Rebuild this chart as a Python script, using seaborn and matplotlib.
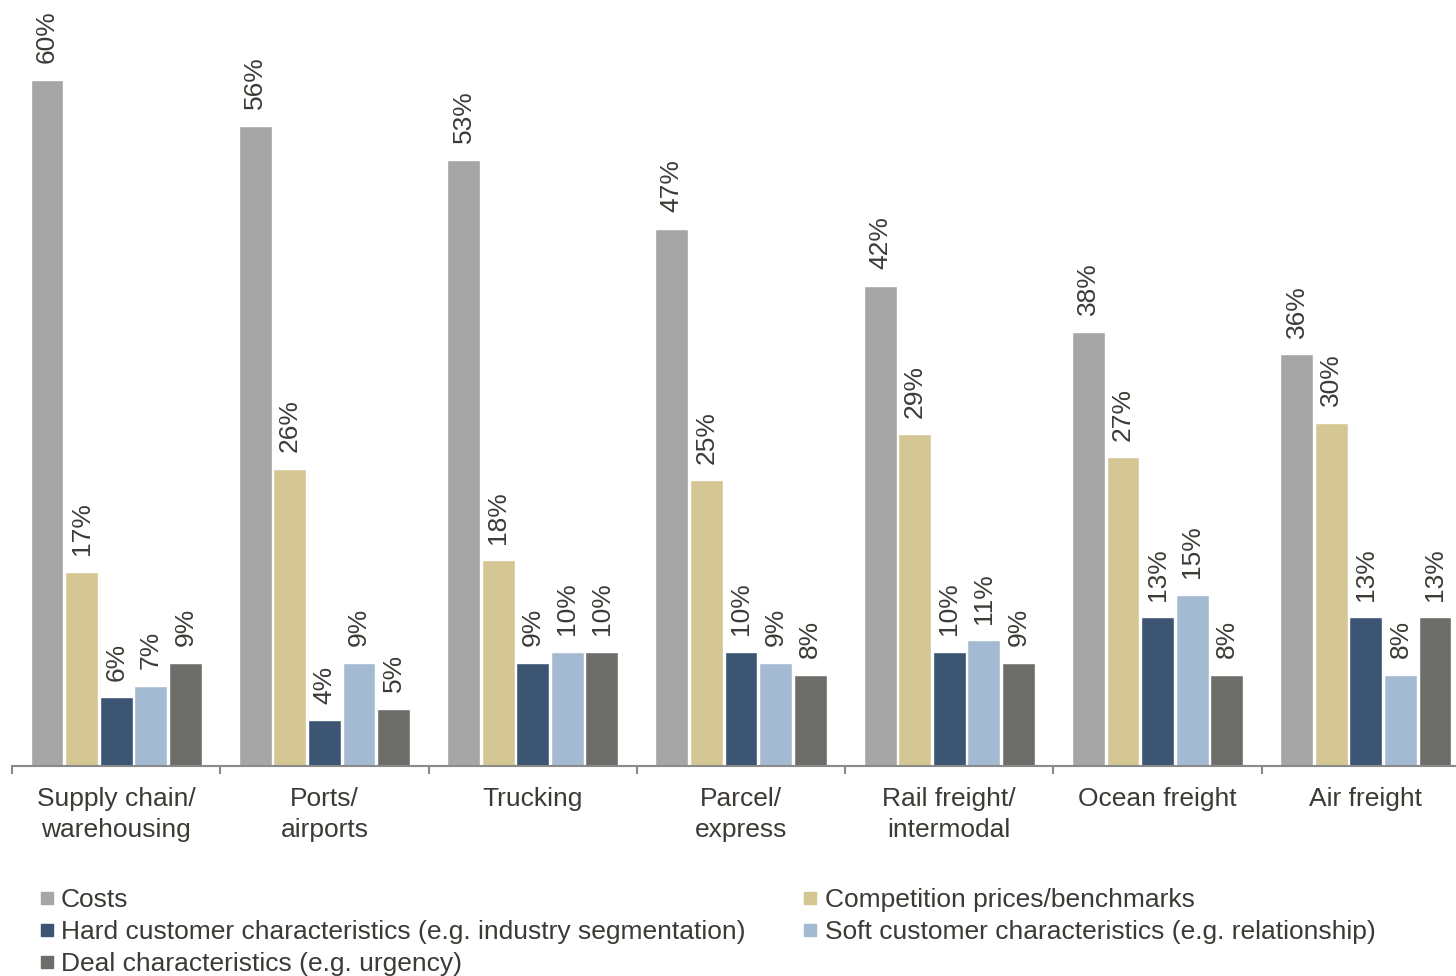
import numpy as np
import pandas as pd
import matplotlib
matplotlib.use("Agg")
import matplotlib.pyplot as plt
from matplotlib.lines import Line2D
import seaborn as sns

categories = ["Supply chain/\nwarehousing", "Ports/\nairports", "Trucking", "Parcel/\nexpress",
              "Rail freight/\nintermodal", "Ocean freight", "Air freight"]
series = ["Costs", "Competition prices/benchmarks",
          "Hard customer characteristics (e.g. industry segmentation)",
          "Soft customer characteristics (e.g. relationship)",
          "Deal characteristics (e.g. urgency)"]
costs = [60, 56, 53, 47, 42, 38, 36]
competition = [17, 26, 18, 25, 29, 27, 30]
hard = [6, 4, 9, 10, 10, 13, 13]
soft = [7, 9, 10, 9, 11, 15, 8]
deal = [9, 5, 10, 8, 9, 8, 13]
colors = ["#a6a6a6", "#d4c794", "#3b5573", "#a4bad2", "#6d6e69"]

values = [costs, competition, hard, soft, deal]
rows = []
for s, vals in zip(series, values):
    for c, v in zip(categories, vals):
        rows.append({"category": c, "series": s, "value": v})
df = pd.DataFrame(rows)

sns.set_theme(style="white")
plt.rcParams["font.family"] = ["Liberation Sans", "DejaVu Sans"]
text_color = "#3d3a35"

fig = plt.figure(figsize=(14.56, 9.76), dpi=100)
ax = fig.add_axes([12 / 1456, (976 - 766) / 976, 1458 / 1456, 766 / 976])

sns.barplot(data=df, x="category", y="value", hue="series", order=categories,
            hue_order=series, palette=colors, width=0.83, gap=0.05,
            saturation=1, legend=False, ax=ax, errorbar=None)

for cont in ax.containers:
    for bar in cont:
        h = bar.get_height()
        ax.annotate(f"{h:.0f}%", (bar.get_x() + bar.get_width() / 2, h),
                    xytext=(0, 12), textcoords="offset points", rotation=90,
                    ha="center", va="bottom", fontsize=19, color=text_color)

ax.set_xlim(-0.5, 6.5)
ax.set_ylim(0, 766 / 686 * 60)
ax.set_xlabel("")
ax.set_ylabel("")
ax.set_yticks([])
for sp in ["top", "right", "left"]:
    ax.spines[sp].set_visible(False)
ax.spines["bottom"].set_color("#8a8a8a")
ax.spines["bottom"].set_linewidth(1.5)
ax.tick_params(axis="x", which="major", length=0, pad=15, labelsize=19, labelcolor=text_color)
for lbl in ax.get_xticklabels():
    lbl.set_linespacing(1.38)
ax.set_xticks(np.arange(-0.5, 7.0, 1.0), minor=True)
ax.tick_params(axis="x", which="minor", length=6, width=1.5, color="#8a8a8a", direction="out", bottom=True)

handles = [Line2D([0], [0], marker="s", linestyle="", markersize=8,
                  markerfacecolor=col, markeredgecolor=col) for col in colors]
order = [0, 2, 4, 1, 3]
leg = fig.legend([handles[i] for i in order], [series[i] for i in order], ncol=2,
                 loc="upper left", bbox_to_anchor=(40 / 1456, 1 - 888 / 976),
                 frameon=False, fontsize=19, handlelength=0.5, handletextpad=0.3,
                 labelspacing=0.3, columnspacing=2.2, borderaxespad=0, borderpad=0)
for t in leg.get_texts():
    t.set_color(text_color)

fig.savefig("out.png", dpi=100)
